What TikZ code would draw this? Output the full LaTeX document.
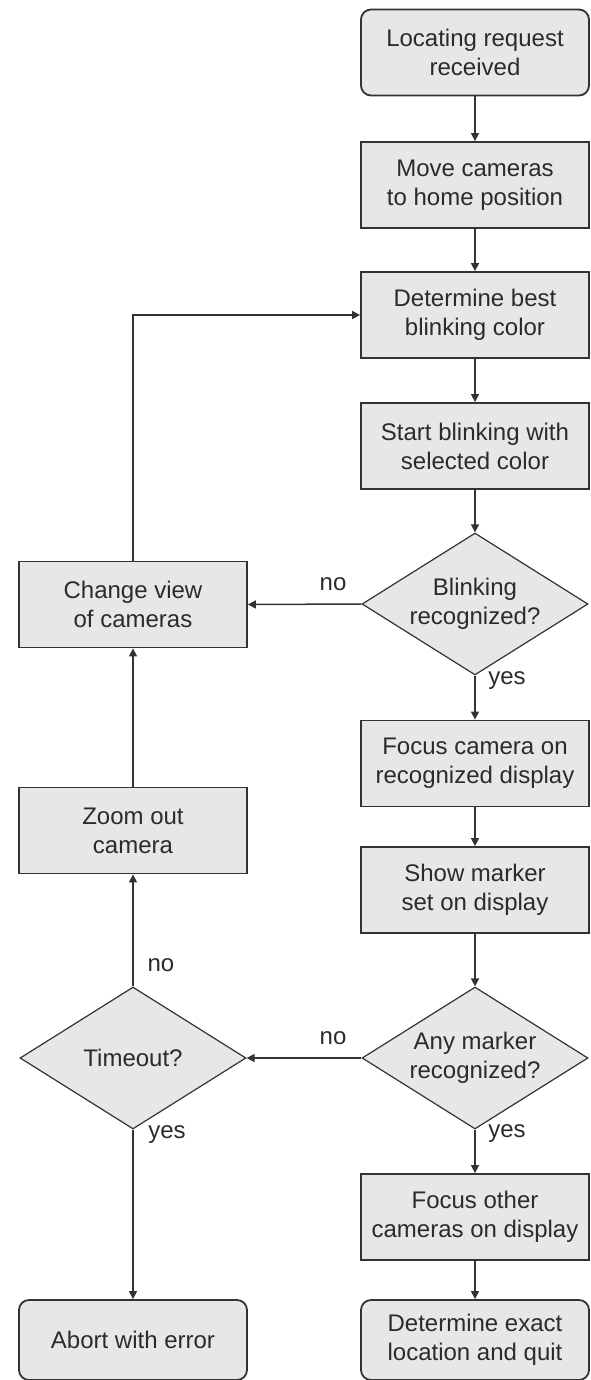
\documentclass[tikz,border=0pt]{standalone}
\usepackage{fontspec}
\setmainfont{Liberation Sans}
\usetikzlibrary{shapes.geometric,arrows.meta}
\definecolor{boxfill}{HTML}{E6E7E9}
\definecolor{linec}{HTML}{333333}
\definecolor{txtc}{HTML}{2B2B2B}
\begin{document}
\begin{tikzpicture}[x=1pt,y=-1pt,
  every node/.style={font=\fontsize{24}{29}\selectfont, text=txtc},
  procbox/.style={draw=linec, line width=1.8pt, fill=boxfill, rectangle, minimum width=228pt, minimum height=86pt, inner sep=0pt, align=center},
  termbox/.style={procbox, rounded corners=10pt},
  dia/.style={draw=linec, line width=1.2pt, fill=boxfill, diamond, minimum width=226pt, minimum height=142pt, inner sep=0pt, aspect=1.59},
  txt/.style={align=center, inner sep=0pt},
  lbl/.style={inner sep=0pt},
  conn/.style={draw=linec, line width=1.5pt, -{Triangle[length=8pt,width=8pt]}}
]
\useasboundingbox (0,0) rectangle (590,1380);
\fill[white] (0,0) rectangle (590,1380);
% right column
\node[termbox] (start) at (475,52.5) {Locating request\\received};
\node[procbox] (home) at (475,185) {Move cameras\\to home position};
\node[procbox] (best) at (475,315) {Determine best\\blinking color};
\node[procbox] (blink) at (475,446) {Start blinking with\\selected color};
\node[dia] (d1) at (475,604) {};
\node[txt] at (d1) {Blinking\\recognized?};
\node[procbox] (focus) at (475,763.5) {Focus camera on\\recognized display};
\node[procbox] (marker) at (475,890) {Show marker\\set on display};
\node[dia] (d2) at (475,1058) {};
\node[txt] at (d2) {Any marker\\recognized?};
\node[procbox] (other) at (475,1217) {Focus other\\cameras on display};
\node[termbox, minimum height=80pt] (exact) at (475,1340) {Determine exact\\location and quit};
% left column
\node[procbox] (change) at (133,604.5) {Change view\\of cameras};
\node[procbox] (zoomout) at (133,830.5) {Zoom out\\camera};
\node[dia] (tmo) at (133,1058) {};
\node[txt] at (tmo) {Timeout?};
\node[termbox, minimum height=80pt] (abort) at (133,1340) {Abort with error};
% connectors
\draw[conn] (start) -- (home);
\draw[conn] (home) -- (best);
\draw[conn] (best) -- (blink);
\draw[conn] (blink) -- (d1.north);
\draw[conn] (d1.south) -- (focus);
\draw[conn] (focus) -- (marker);
\draw[conn] (marker) -- (d2.north);
\draw[conn] (d2.south) -- (other);
\draw[conn] (other) -- (exact);
\draw[conn] (d1.west) -- (change.east);
\draw[conn] (change.north) |- (best.west);
\draw[conn] (zoomout) -- (change);
\draw[conn] (tmo.north) -- (zoomout);
\draw[conn] (d2.west) -- (tmo.east);
\draw[conn] (tmo.south) -- (abort);
% labels
\node[lbl] at (333,584) {no};
\node[lbl] at (507,681) {yes};
\node[lbl] at (161,965) {no};
\node[lbl] at (333,1038) {no};
\node[lbl] at (507,1134) {yes};
\node[lbl] at (167,1135) {yes};
\end{tikzpicture}
\end{document}
